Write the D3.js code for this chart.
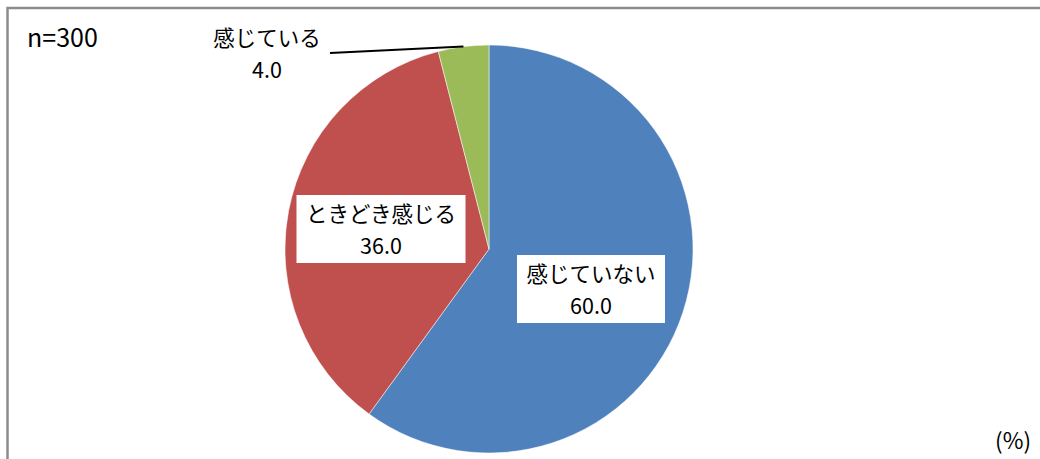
<!DOCTYPE html>
<html lang="ja">
<head>
    <meta charset="UTF-8">
    <title>感じているか</title>
    <script src="https://d3js.org/d3.v7.min.js"></script>
    <style>
        body { margin: 0; background: #fff; }
        svg text { font-family: "Noto Sans CJK JP", "Noto Sans", sans-serif; fill: #000; }
    </style>
</head>
<body>
    <div id="pieChart"></div>
    <script>
        // data
        const categories = ["感じていない", "ときどき感じる", "感じている"];
        const values = [60.0, 36.0, 4.0];
        const colors = ["#4F81BD", "#C0504D", "#9BBB59"];
        const sampleLabel = "n=300";
        const unitLabel = "(%)";

        const width = 1040;
        const height = 459;
        const cx = 489, cy = 249, radius = 204;

        const svg = d3.select("#pieChart")
            .append("svg")
            .attr("width", width)
            .attr("height", height);

        // outer frame
        svg.append("rect")
            .attr("x", 7.5).attr("y", 8)
            .attr("width", width).attr("height", height)
            .attr("fill", "none")
            .attr("stroke", "#8c8c8c")
            .attr("stroke-width", 2.5);

        const data = categories.map((c, i) => ({ category: c, value: values[i], color: colors[i] }));

        const pie = d3.pie().value(d => d.value).sort(null);
        const arc = d3.arc().innerRadius(0).outerRadius(radius);

        const g = svg.append("g")
            .attr("transform", "translate(" + cx + "," + cy + ")");

        const arcs = pie(data);

        g.selectAll("path")
            .data(arcs)
            .enter()
            .append("path")
            .attr("d", arc)
            .attr("fill", d => d.data.color)
            .attr("stroke", "#fff")
            .attr("stroke-width", 0.5);

        // label positions (relative to the pie centre)
        const labelPos = [
            { x: 102, y: 40, box: true },
            { x: -108, y: -20, box: true },
            { x: -222, y: -196, box: false }
        ];

        // leader line for the small slice
        const small = arcs[2];
        const midA = (small.startAngle + small.endAngle) / 2;
        const edge = [Math.sin(midA) * radius, -Math.cos(midA) * radius];
        g.append("line")
            .attr("x1", -159).attr("y1", -196)
            .attr("x2", edge[0]).attr("y2", edge[1])
            .attr("stroke", "#000")
            .attr("stroke-width", 2);

        arcs.forEach((d, i) => {
            const p = labelPos[i];
            const lg = g.append("g").attr("transform", "translate(" + p.x + "," + p.y + ")");
            if (p.box) {
                const w = d.data.category.length * 21 + 22;
                lg.append("rect")
                    .attr("x", -w / 2).attr("y", -34)
                    .attr("width", w).attr("height", 68)
                    .attr("fill", "#fff");
            }
            lg.append("text")
                .attr("text-anchor", "middle")
                .attr("y", -7)
                .attr("font-size", 21.5)
                .text(d.data.category);
            lg.append("text")
                .attr("text-anchor", "middle")
                .attr("y", 25)
                .attr("font-size", 21.5)
                .text(d.data.value.toFixed(1));
        });

        svg.append("text")
            .attr("x", 27).attr("y", 47)
            .attr("font-size", 25)
            .text(sampleLabel);

        svg.append("text")
            .attr("x", 1031).attr("y", 449)
            .attr("text-anchor", "end")
            .attr("font-size", 22.5)
            .text(unitLabel);
    </script>
</body>
</html>
